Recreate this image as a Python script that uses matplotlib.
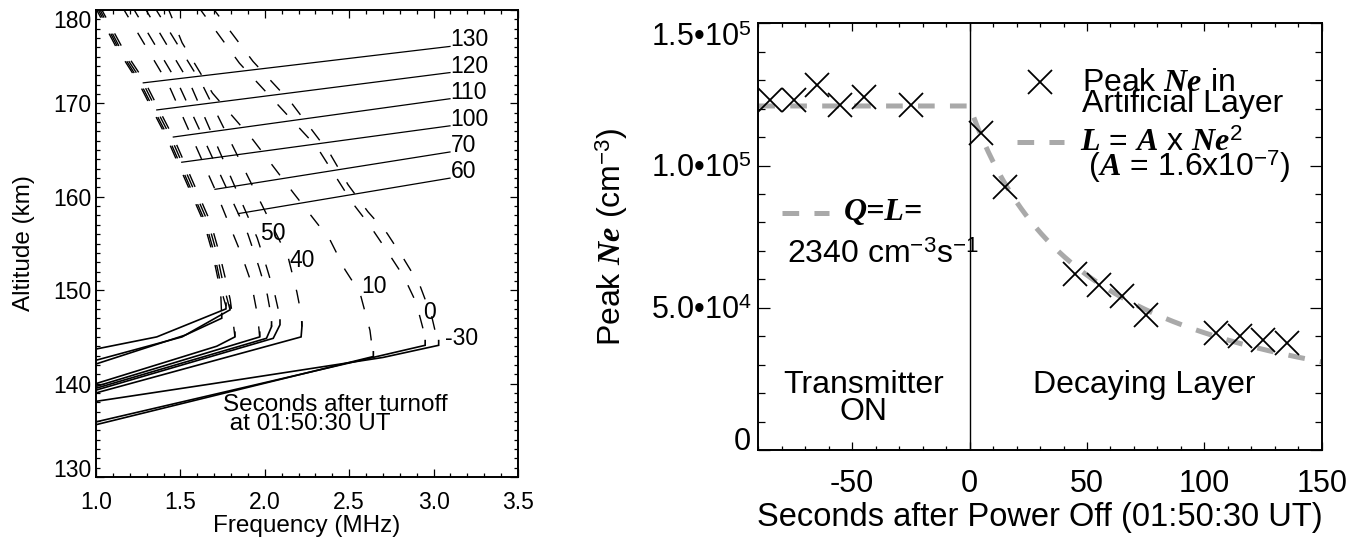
import numpy as np
import matplotlib
matplotlib.use("Agg")
import matplotlib.pyplot as plt

plt.rcParams['font.family'] = ['Liberation Sans', 'DejaVu Sans']
plt.rcParams['mathtext.fontset'] = 'custom'
plt.rcParams['mathtext.rm'] = 'Liberation Sans'
plt.rcParams['mathtext.it'] = 'Liberation Serif:italic:bold'
plt.rcParams['mathtext.bf'] = 'Liberation Serif:italic:bold'
plt.rcParams['lines.scale_dashes'] = False
plt.rcParams['axes.linewidth'] = 1.4
plt.rcParams['axes.unicode_minus'] = False

# ---------------- left panel: ionogram traces (frequency MHz, altitude km) ----------------
# dashed = upper branch, solid = lower branch
up_130 = ([1.00, 1.13, 1.26, 1.35, 1.43, 1.51, 1.59, 1.65, 1.70, 1.735, 1.755, 1.77],
          [180.5, 176.0, 172.3, 169.1, 166.3, 163.0, 159.7, 157.2, 154.0, 151.0, 149.2, 148.3])
lo_130 = ([1.77, 1.77, 1.36, 1.00], [148.6, 148.0, 145.0, 143.7])

up_120 = ([1.01, 1.14, 1.275, 1.365, 1.445, 1.525, 1.605, 1.665, 1.715, 1.75, 1.775, 1.794],
          [180.5, 176.0, 172.3, 169.1, 166.3, 163.0, 159.7, 157.2, 154.0, 151.0, 149.2, 147.9])
lo_120 = ([1.794, 1.794, 1.51, 1.00], [148.4, 147.9, 145.0, 142.5])

up_110 = ([0.99, 1.12, 1.25, 1.34, 1.42, 1.50, 1.58, 1.64, 1.69, 1.725, 1.74, 1.745],
          [180.5, 176.0, 172.3, 169.1, 166.3, 163.0, 159.7, 157.2, 154.0, 151.0, 149.2, 147.0])
lo_110 = ([1.745, 1.745, 1.53, 1.00], [147.5, 147.0, 145.2, 142.1])

up_100 = ([1.02, 1.155, 1.29, 1.38, 1.46, 1.54, 1.62, 1.68, 1.73, 1.77, 1.795, 1.81, 1.823],
          [180.5, 176.0, 172.3, 169.1, 166.3, 163.0, 159.7, 157.2, 154.0, 151.0, 149.0, 147.0, 145.0])
lo_100 = ([1.823, 1.823, 1.715, 1.00], [145.5, 145.0, 144.0, 140.0])

up_70 = ([1.15, 1.43, 1.705, 1.79, 1.86, 1.92, 1.957, 1.97],
         [180.5, 172.0, 160.8, 157.0, 153.9, 150.8, 147.3, 145.0])
lo_70 = ([1.97, 1.97, 1.00], [145.5, 145.0, 139.7])

up_60 = ([1.21, 1.49, 1.843, 1.90, 1.965, 2.015, 2.035, 2.04],
         [180.5, 172.0, 158.2, 156.0, 152.5, 149.5, 147.5, 146.1])
lo_60 = ([2.04, 2.04, 2.01, 1.00], [146.6, 146.1, 144.85, 139.5])

up_50 = ([1.28, 1.56, 1.955, 2.01, 2.06, 2.085, 2.09],
         [180.5, 172.0, 155.6, 152.5, 149.5, 147.5, 146.3])
lo_50 = ([2.09, 2.09, 2.05, 1.00], [146.8, 146.3, 144.85, 139.3])

up_40 = ([1.34, 1.63, 2.14, 2.19, 2.215, 2.22],
         [180.5, 172.0, 153.4, 149.8, 147.5, 146.1])
lo_40 = ([2.22, 2.22, 2.215, 1.00], [146.6, 146.1, 145.0, 139.0])

up_10 = ([1.42, 1.51, 1.69, 1.93, 2.17, 2.386, 2.475, 2.564, 2.623, 2.643],
         [180.5, 176.5, 171.1, 166.1, 160.4, 155.4, 152.2, 149.7, 145.7, 142.9])
lo_10 = ([2.643, 2.643, 1.00], [143.4, 142.9, 135.6])

up_0 = ([1.60, 1.85, 2.07, 2.31, 2.517, 2.623, 2.724, 2.825, 2.896, 2.943, 2.95],
        [180.5, 174.3, 170.0, 165.3, 159.4, 156.9, 154.2, 151.4, 148.7, 145.5, 144.1])
lo_0 = ([2.95, 2.95, 1.00], [144.6, 144.1, 135.9])

up_m30 = ([1.68, 1.93, 2.16, 2.39, 2.493, 2.611, 2.724, 2.825, 2.919, 2.990, 3.020, 3.03],
          [180.5, 174.5, 170.0, 164.5, 161.3, 158.4, 156.1, 153.3, 150.5, 147.1, 144.8, 144.1])
lo_m30 = ([3.03, 3.03, 2.70, 1.695, 1.00], [144.6, 144.1, 142.8, 140.0, 138.1])

upper_branches = [up_130, up_120, up_110, up_100, up_70, up_60, up_50, up_40, up_10, up_0, up_m30]
lower_branches = [lo_130, lo_120, lo_110, lo_100, lo_70, lo_60, lo_50, lo_40, lo_10, lo_0, lo_m30]

# labels with leader lines (label altitude at right, point on trace)
lead_labels = ['130', '120', '110', '100', '70', '60']
lead_label_alt = [176.1, 173.3, 170.5, 167.6, 164.8, 162.0]
lead_curve_f = [1.28, 1.36, 1.458, 1.508, 1.705, 1.843]
lead_curve_alt = [172.2, 169.3, 166.4, 163.7, 160.8, 158.2]

# labels placed next to traces
inline_labels = ['50', '40', '10', '0', '-30']
inline_f = [2.05, 2.223, 2.648, 2.973, 3.166]
inline_alt = [156.1, 153.2, 150.4, 147.6, 144.85]

freq_ticks = [1.0, 1.5, 2.0, 2.5, 3.0, 3.5]
alt_ticks = [130, 140, 150, 160, 170, 180]

# ---------------- right panel data ----------------
on_t = [-85, -75, -65, -55, -45, -25]
on_ne = [123000, 123000, 128300, 121300, 124200, 121300]
off_t = [5, 15, 45, 55, 65, 75, 105, 115, 125, 135]
off_ne = [111300, 92500, 62000, 58000, 54000, 47500, 41200, 40000, 38800, 37600]

Q_rate = 2340.0      # cm^-3 s^-1
A_coef = 1.6e-7      # recombination coefficient

sec_ticks = [-50, 0, 50, 100, 150]
ne_ticks = [0, 50000, 100000, 150000]
ne_tick_labels = ['0', '5.0•10$^4$', '1.0•10$^5$', '1.5•10$^5$']

# ---------------- figure ----------------
fig = plt.figure(figsize=(13.61, 5.40), dpi=100)
axL = fig.add_axes([96 / 1361, 63 / 540, 422 / 1361, 467 / 540])
axR = fig.add_axes([758.3 / 1361, 90 / 540, 563.5 / 1361, 426.7 / 540])

# ----- left panel -----
dash = (0, (10, 13))
for (f, h) in upper_branches:
    axL.plot(f, h, color='black', lw=1.0, linestyle=dash)
for (f, h) in lower_branches:
    axL.plot(f, h, color='black', lw=1.2, solid_joinstyle='miter')

for lab, la, cf, ca in zip(lead_labels, lead_label_alt, lead_curve_f, lead_curve_alt):
    axL.plot([cf, 3.097], [ca, la], color='black', lw=0.9)
    axL.text(3.10, la, lab, fontsize=16.5, ha='left', va='baseline')

for lab, f, h in zip(inline_labels, inline_f, inline_alt):
    axL.text(f, h, lab, fontsize=16.5, ha='center', va='center')

# multi-line texts: anchor is the baseline of the last line
axL.text(1.752, 135.0, 'Seconds after turnoff\n at 01:50:30 UT', fontsize=17.5,
         ha='left', va='baseline', linespacing=0.82)

axL.set_xlim(1.0, 3.5)
axL.set_ylim(130, 180)
axL.set_xticks(freq_ticks)
axL.set_xticklabels([f'{v:.1f}' for v in freq_ticks])
axL.set_xticks(np.arange(1.0, 3.51, 0.1), minor=True)
axL.set_yticks(alt_ticks)
axL.set_yticks(np.arange(130, 181, 1), minor=True)
axL.tick_params(which='both', direction='in', top=True, right=True, width=0.9)
axL.tick_params(which='major', length=6)
axL.tick_params(which='minor', length=3)
axL.tick_params(axis='x', which='major', pad=10, labelsize=16.5)
axL.tick_params(axis='y', which='major', pad=3, labelsize=16.5)
yt = axL.yaxis.get_major_ticks()
yt[0].label1.set_va('baseline')
yt[-1].label1.set_va('top')

axL.set_xlabel('Frequency (MHz)', fontsize=17.5)
axL.xaxis.label.set_va('baseline')
axL.xaxis.set_label_coords(0.5, (477 - 531.7) / 467)
axL.set_ylabel('Altitude (km)', fontsize=17.5)
axL.yaxis.label.set_va('baseline')
axL.yaxis.set_label_coords((30 - 96) / 422, 0.5)

# ----- right panel -----
gray = '#a9a9a9'
ne_eq = np.sqrt(Q_rate / A_coef)
t_curve = np.concatenate([[-90.0], np.linspace(0.0, 150.0, 301)])
ne_curve = np.where(t_curve < 0, ne_eq, ne_eq / (1 + A_coef * ne_eq * np.clip(t_curve, 0, None)))
gdash = (0, (12, 11))
axR.plot(t_curve, ne_curve, color=gray, lw=3.6, linestyle=gdash, zorder=2)

axR.axvline(0, color='black', lw=1.0, zorder=1)

mk = dict(marker='x', linestyle='none', color='black', markersize=17, markeredgewidth=1.3, zorder=3)
axR.plot(on_t, on_ne, **mk)
axR.plot(off_t, off_ne, **mk)

# legend-like annotations
axR.plot([30.1], [129500], clip_on=False, **mk)
axR.text(47.8, 118900, 'Peak $\\mathit{Ne}$ in\nArtificial Layer', fontsize=23,
         ha='left', va='baseline', linespacing=0.6)
axR.plot([20.2, 40.0], [108400, 108400], color=gray, lw=3.6, linestyle=gdash)
axR.text(47.1, 96300, '$\\mathit{L}$ = $\\mathit{A}$ x $\\mathit{Ne}^{2}$\n ($\\mathit{A}$ = 1.6x10$^{-7}$)',
         fontsize=23, ha='left', va='baseline', linespacing=0.64)

axR.plot([-79.8, -60.0], [83200, 83200], color=gray, lw=3.6, linestyle=gdash)
axR.text(-53.6, 80840, 'Q=L=', fontsize=23, family='Liberation Serif', weight='bold',
         style='italic', ha='left', va='baseline')
axR.text(-77.7, 65600, r'2340 cm$^{-3}$s$^{-1}$', fontsize=23, ha='left', va='baseline')

axR.text(-45, 10540, 'Transmitter\nON', fontsize=23, ha='center', va='baseline',
         linespacing=0.86, multialignment='center')
axR.text(27.2, 19930, 'Decaying Layer', fontsize=23, ha='left', va='baseline')

axR.set_xlim(-90, 150)
axR.set_ylim(0, 150000)
axR.set_xticks(sec_ticks)
axR.set_xticks(np.arange(-90, 151, 10), minor=True)
axR.set_yticks(ne_ticks)
axR.set_yticklabels(ne_tick_labels)
axR.set_yticks(np.arange(0, 150001, 10000), minor=True)
axR.tick_params(which='both', direction='in', top=True, right=True, width=0.9)
axR.tick_params(axis='x', which='major', length=6, pad=14, labelsize=22)
axR.tick_params(axis='x', which='minor', length=3)
axR.tick_params(axis='y', which='major', length=8.4, pad=5, labelsize=22)
axR.tick_params(axis='y', which='minor', length=4.8)
ytr = axR.yaxis.get_major_ticks()
ytr[0].label1.set_va('baseline')
ytr[-1].label1.set_va('top')

axR.set_xlabel('Seconds after Power Off (01:50:30 UT)', fontsize=23.5)
axR.xaxis.label.set_va('baseline')
axR.xaxis.set_label_coords(0.5, (450 - 526) / 426.7)
axR.set_ylabel(r'Peak $\mathit{Ne}$ (cm$^{-3}$)', fontsize=23)
axR.yaxis.label.set_va('baseline')
axR.yaxis.set_label_coords((621.4 - 758.3) / 563.5, 0.5)

fig.savefig('out.png', dpi=100)
